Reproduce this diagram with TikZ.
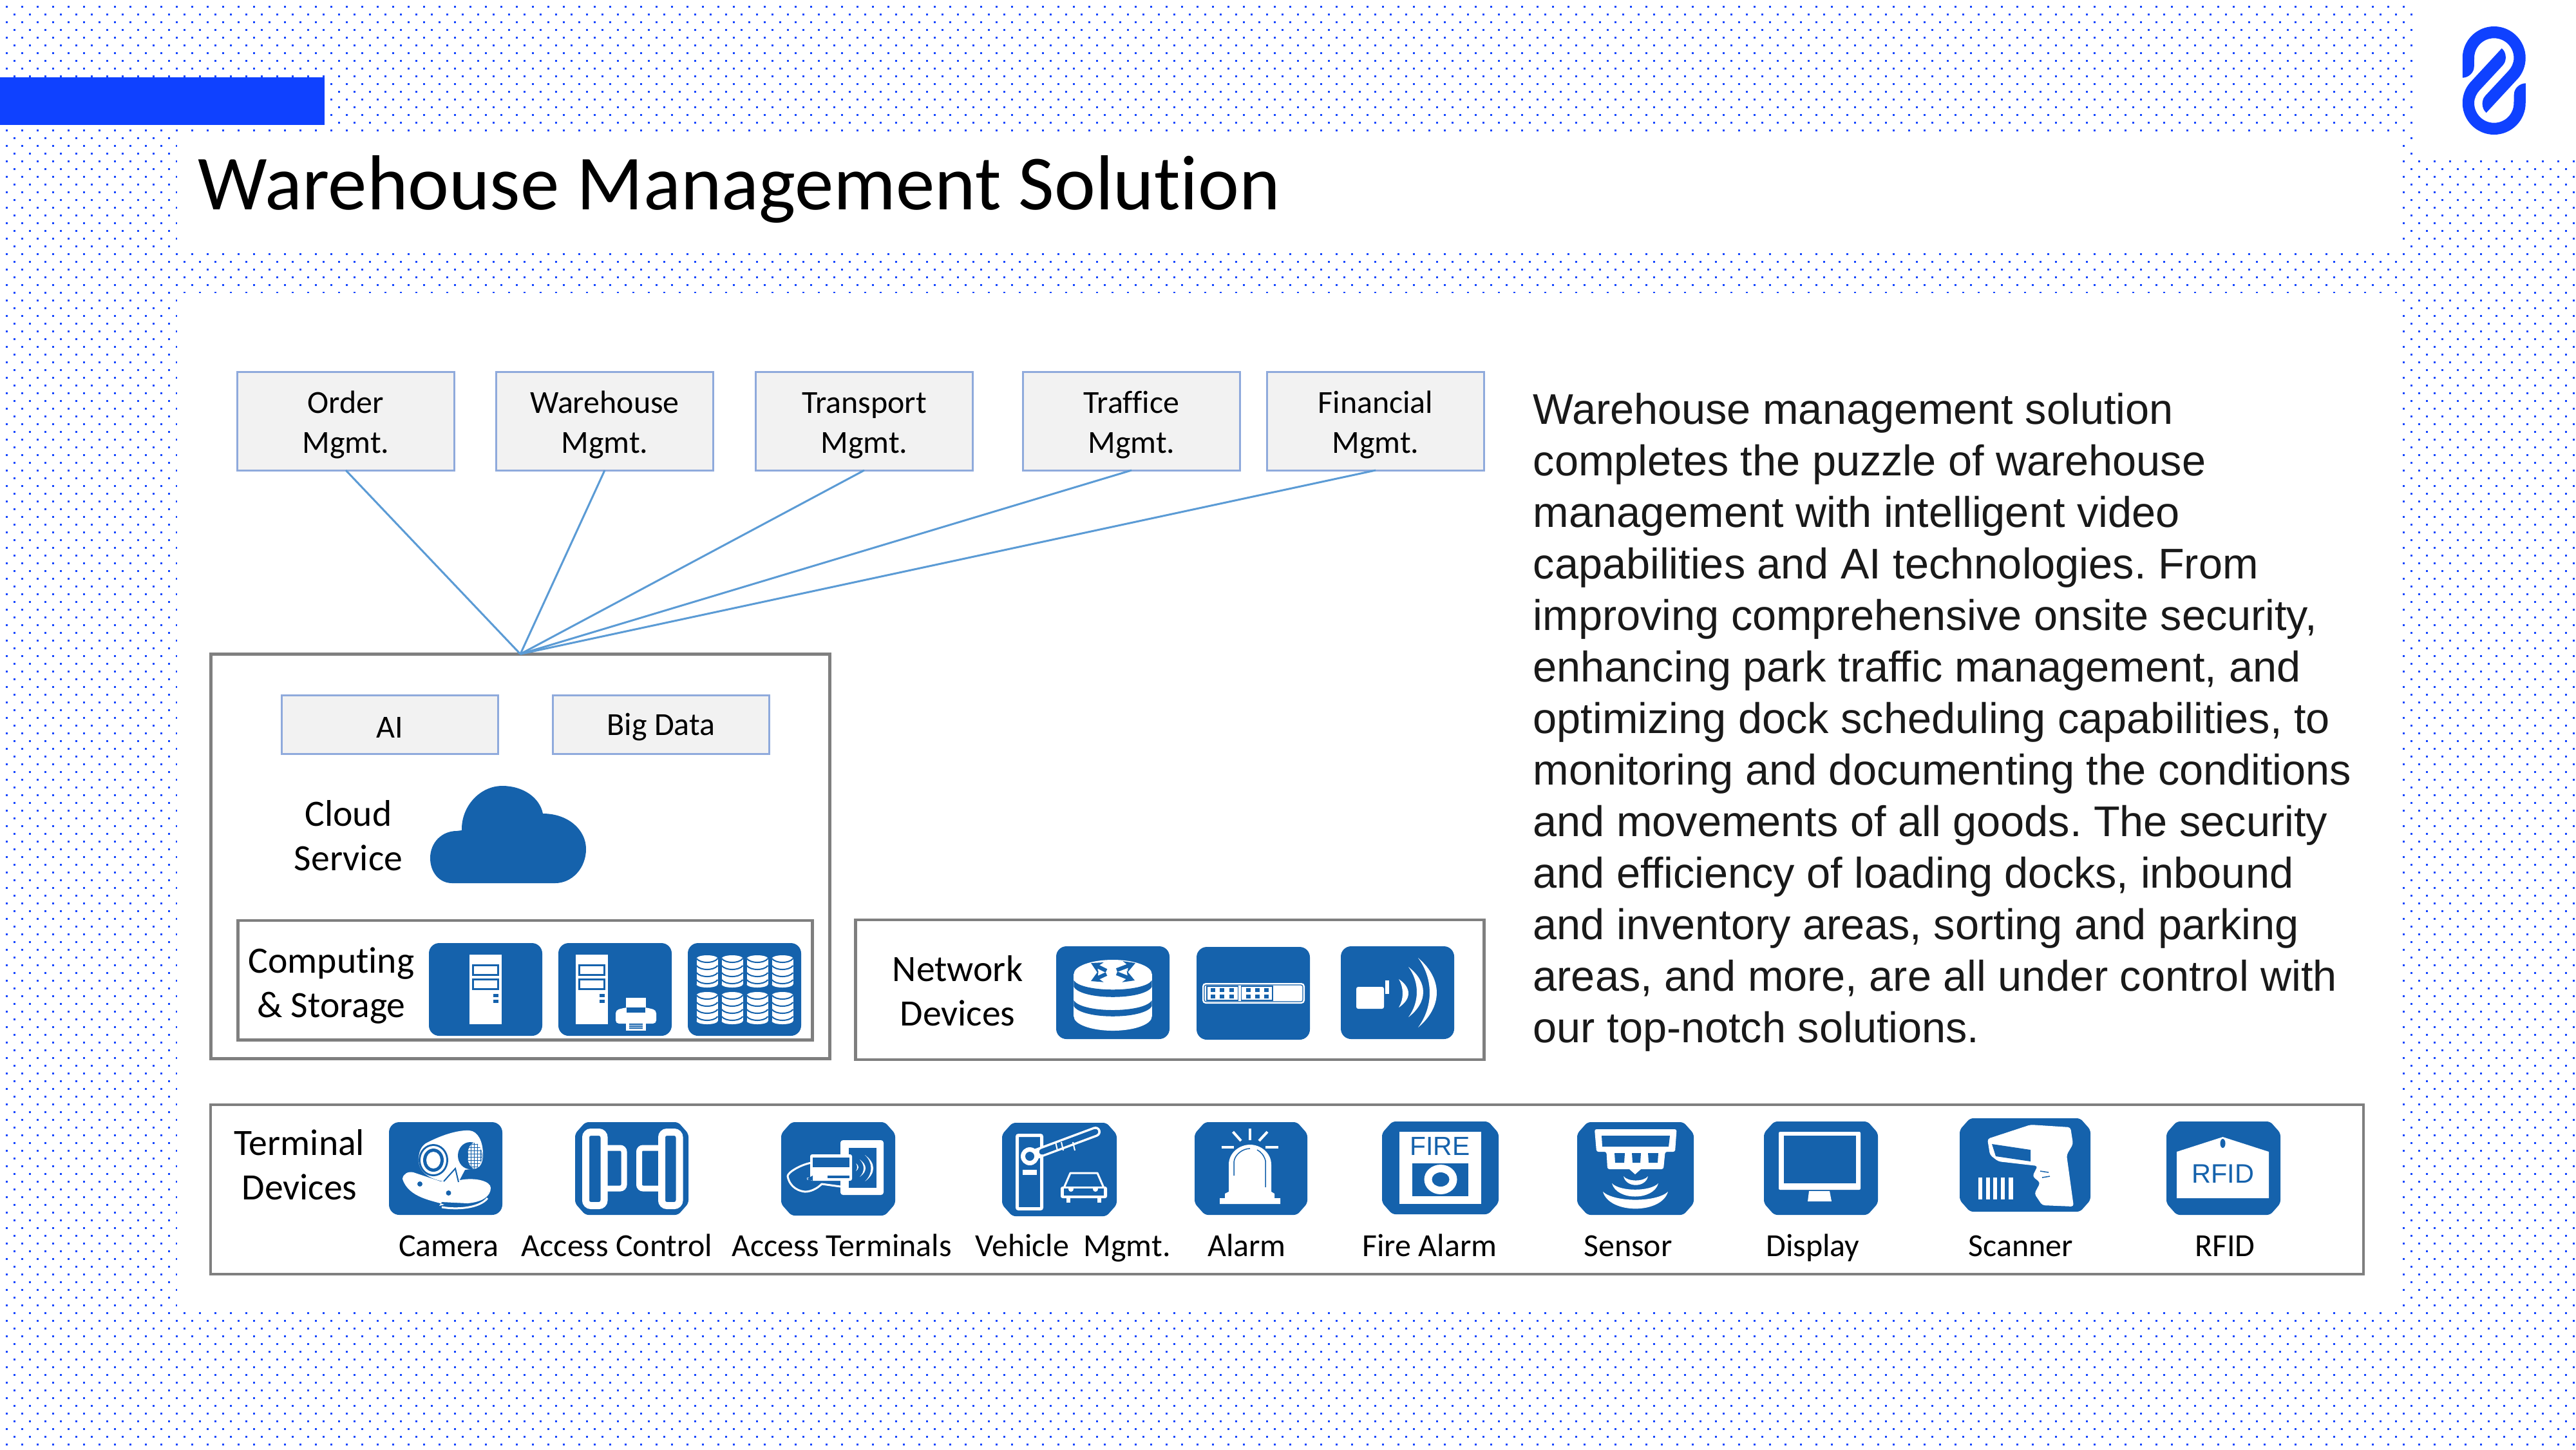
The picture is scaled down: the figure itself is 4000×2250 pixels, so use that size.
\documentclass[tikz,border=0pt]{standalone}
\usepackage{fontspec}
\setmainfont[Ligatures=NoCommon]{Carlito}
\newfontfamily\arialfont{Liberation Sans}
\usetikzlibrary{arrows.meta}
\definecolor{dotblue}{HTML}{1446FF}
\definecolor{barblue}{HTML}{0F41FF}
\definecolor{boxedge}{HTML}{8FAADC}
\definecolor{boxfill}{HTML}{F2F2F2}
\definecolor{framegray}{HTML}{7F7F7F}
\definecolor{linkblue}{HTML}{5B9BD5}
\definecolor{iconblue}{HTML}{1562AC}
\tikzset{
    dotrow/.style={dotblue, line width=.03cm, dash pattern=on .03cm off .21cm},
    appbox/.style={draw=boxedge, fill=boxfill, line width=.03cm, inner sep=0, outer sep=0, minimum width=3.36cm, align=center, font=\fontsize{14.2}{17.36}\selectfont},
    mgmtbox/.style={appbox, minimum height=1.52cm, execute at begin node=\rule{0pt}{30.3pt}},
    techbox/.style={appbox, minimum height=.91cm, execute at begin node=\rule{0pt}{12pt}},
    framebox/.style={draw=framegray, line width=.045cm, inner sep=0, outer sep=0},
    grouplabel/.style={align=center, font=\fontsize{16.4}{19.63}\selectfont},
    termlabel/.style={anchor=base, font=\fontsize{14.2}{17}\selectfont},
    linkline/.style={draw=linkblue, line width=.03cm},
    iconfill/.style={fill=iconblue},
    ray/.style={draw=white, line width=.04cm},
}
\newcommand{\roundplate}[2]{\fill[iconfill, rounded corners=.16cm] (0,0) rectangle (#1,#2);}
\newcommand{\cutplate}[2]{\fill[iconfill, rounded corners=.05cm] (16,0) -- ({#1-16},0) -- (#1,18) -- (#1,{#2-18}) -- ({#1-16},#2) -- (16,#2) -- (0,{#2-18}) -- (0,18) -- cycle;}
% x, top, bottom, bow, thickness
\newcommand{\crescent}[5]{\fill[white] (#1,#2) .. controls ({#1+1.33*#4},{#2+.3*(#3-#2)}) and ({#1+1.33*#4},{#3-.3*(#3-#2)}) .. (#1,#3) .. controls ({#1+1.33*(#4-#5)},{#3-.3*(#3-#2)}) and ({#1+1.33*(#4-#5)},{#2+.3*(#3-#2)}) .. (#1,#2) -- cycle;}
% left, right, top, bottom depth
\newcommand{\wavearc}[4]{\fill[white] (#1,#3) .. controls ({#1+.1*(#2-#1)},{#3+1.3*#4}) and ({#2-.1*(#2-#1)},{#3+1.3*#4}) .. (#2,#3) .. controls ({#2-.18*(#2-#1)},{#3+.62*#4}) and ({#1+.18*(#2-#1)},{#3+.62*#4}) .. (#1,#3) -- cycle;}
\newcommand{\towershape}{
    \fill[white] (0,0) rectangle (50,108);
    \draw[iconblue, line width=.03cm] (5.5,16.5) rectangle (44.5,31.5);
    \draw[iconblue, line width=.03cm] (5.5,38.5) rectangle (44.5,53.5);
    \fill[iconblue] (37,61) rectangle (45,66);
    \fill[iconblue] (37,70) rectangle (45,75);
}
\begin{document}
\begin{tikzpicture}[x=.01cm, y=-.01cm]
    \useasboundingbox (0,0) rectangle (4000,2250);
    \fill[white] (0,0) rectangle (4000,2250);

    % dotted paper
    \foreach \y in {10.3,34.3,...,2250} {
        \draw[dotrow] (9,\y) -- (4000,\y);
        \draw[dotrow] (21,\y+12) -- (4000,\y+12);
    }
    \fill[white] (275,208) rectangle (3728,388);
    \fill[white] (275,455) rectangle (3728,2028);
    \fill[white] (3755,0) rectangle (4000,245);
    \fill[barblue] (0,120) rectangle (504,194);

    % logo
    \begin{scope}[shift={(3872.7,125)}]
        \foreach \a in {0,180} {
            \fill[barblue, rotate=\a] (-49,-4.3) -- (-49,-35) .. controls (-49,-62) and (-27,-84) .. (0,-84) .. controls (27,-84) and (49,-62) .. (49,-35) .. controls (49,-22) and (44,-11) .. (37.3,-3.3) -- (-12,50) .. controls (-18,45) and (-19,36) .. (-17.7,32) .. controls (-17,28) and (-15,25) .. (-13.3,23.3) -- (22.3,-15) .. controls (27,-20) and (30.7,-27) .. (30.7,-35) .. controls (30.7,-52) and (17,-65.7) .. (0,-65.7) .. controls (-17,-65.7) and (-30.7,-52) .. (-30.7,-35) -- (-31,-21.7) .. controls (-31,-12) and (-40,-4.3) .. (-49,-4.3) -- cycle;
        }
    \end{scope}

    \node (title) [anchor=base west, inner sep=0, font=\fontsize{34.4}{40}\selectfont] at (307,325) {Warehouse Management Solution};

    % application boxes
    \node (order) [mgmtbox] at (537,654) {Order\\Mgmt.};
    \node (warehouse) [mgmtbox] at (939,654) {Warehouse\\Mgmt.};
    \node (transport) [mgmtbox] at (1342,654) {Transport\\Mgmt.};
    \node (traffice) [mgmtbox] at (1757,654) {Traffice\\Mgmt.};
    \node (financial) [mgmtbox] at (2136,654) {Financial\\Mgmt.};

    % frames
    \node (platform) [framebox, minimum width=9.6cm, minimum height=6.28cm] at (808,1329.5) {};
    \node (computing) [framebox, minimum width=8.91cm, minimum height=1.855cm] at (815.5,1521.75) {};
    \node (network) [framebox, minimum width=9.75cm, minimum height=2.17cm] at (1816.5,1536.5) {};
    \node (terminal) [framebox, minimum width=33.41cm, minimum height=2.63cm] at (1998.5,1846.5) {};
    \foreach \n in {order,warehouse,transport,traffice,financial} {
        \draw[linkline] (\n.south) -- (platform.north);
    }

    \node (ai) [techbox] at (605.5,1124.5) {AI};
    \node (bigdata) [techbox] at (1026.5,1124.5) {Big Data};
    \node (cloudtext) [grouplabel] at (541,1297) {Cloud\\Service};
    \node (comptext) [grouplabel] at (514.5,1530) {Computing\\\&\ Storage};
    \node (nettext) [grouplabel] at (1487,1538) {Network\\Devices};
    \node (termtext) [grouplabel] at (465,1808) {Terminal\\Devices};

    % cloud
    \fill[iconfill] (702,1371) .. controls (682,1371) and (668,1354) .. (668,1332) .. controls (668,1308) and (686,1290) .. (709,1290) -- (717,1289) .. controls (716,1252) and (745,1220) .. (780,1220) .. controls (812,1220) and (838,1238) .. (843,1263) .. controls (882,1263) and (910,1288) .. (910,1318) .. controls (910,1348) and (888,1371) .. (862,1371) -- cycle;

    % server
    \begin{scope}[shift={(666,1464)}]
        \roundplate{176}{144}
        \begin{scope}[shift={(63,18)}]
            \towershape
        \end{scope}
    \end{scope}
    % server and printer
    \begin{scope}[shift={(867,1464)}]
        \roundplate{176}{144}
        \begin{scope}[shift={(27,18)}]
            \towershape
        \end{scope}
        \fill[white, rounded corners=.05cm] (89,125) -- (89,104) -- (105,100) -- (136,100) -- (152,104) -- (152,125) -- cycle;
        \fill[white] (105,85) rectangle (136,100);
        \fill[iconblue] (106,100) rectangle (135,108);
        \fill[white] (105,122) rectangle (136,136);
        \draw[iconblue, line width=.015cm] (110,126) -- (131,126) (110,129) -- (131,129) (110,132) -- (131,132);
    \end{scope}
    % storage
    \begin{scope}[shift={(1068,1464)}]
        \roundplate{176}{144}
        \foreach \cx in {30,69,108,147} {
            \foreach \cy in {19,76} {
                \begin{scope}[shift={(\cx,\cy)}]
                    \fill[white] (-16.5,5) rectangle (16.5,45);
                    \fill[white] (0,5) ellipse (16.5 and 5);
                    \fill[white] (0,45) ellipse (16.5 and 5);
                    \foreach \d in {5,16,27,38} {
                        \draw[iconblue, line width=.02cm] (-16.5,\d) .. controls (-10,\d+8) and (10,\d+8) .. (16.5,\d);
                    }
                \end{scope}
            }
        }
    \end{scope}

    % router
    \begin{scope}[shift={(1640,1469)}]
        \roundplate{176}{144}
        \fill[white] (27.4,43) rectangle (148.6,109);
        \fill[white] (88,109) ellipse (60.6 and 22);
        \fill[white] (88,43) ellipse (60.6 and 22);
        \fill[iconblue] (27.4,53) .. controls (40,72) and (136,72) .. (148.6,53) -- (148.6,63) .. controls (136,84) and (40,84) .. (27.4,63) -- cycle;
        \fill[iconblue] (27.4,84) .. controls (40,104) and (136,104) .. (148.6,84) -- (148.6,93) .. controls (136,114) and (40,114) .. (27.4,93) -- cycle;
        \foreach \tx/\ty/\sx/\sy in {54/26/78/38, 123/26/94/37, 54/54/78/43, 122/53/94/42} {
            \draw[iconblue, line width=.06cm, -{Stealth[length=.17cm, width=.19cm]}] (\sx,\sy) -- (\tx,\ty);
        }
    \end{scope}
    % switch
    \begin{scope}[shift={(1858,1470)}]
        \roundplate{176}{144}
        \fill[white, rounded corners=.05cm] (9,56) rectangle (168,88);
        \draw[iconblue, line width=.012cm, rounded corners=.03cm] (12,59) rectangle (165,85);
        \foreach \gx in {16,69.5} {
            \draw[iconblue, line width=.012cm] (\gx,61) rectangle (\gx+48.5,83);
        }
        \foreach \px in {25.5,39.5,54,80,94,108} {
            \fill[iconblue] (\px-3.5,64) rectangle (\px+3.5,70);
            \fill[iconblue] (\px-3.5,74) rectangle (\px+3.5,80);
        }
    \end{scope}
    % wireless
    \begin{scope}[shift={(2082,1469)}]
        \roundplate{176}{144}
        \fill[white, rounded corners=.03cm] (24,63) rectangle (67,97);
        \fill[white] (69,53) rectangle (75,74);
        \crescent{90}{51}{95}{15}{9}
        \crescent{105}{32}{110}{23}{10}
        \crescent{120}{18}{126}{29}{11}
    \end{scope}

    % camera
    \begin{scope}[shift={(604,1742)}]
        \roundplate{176}{144}
        \fill[white] (21,88) .. controls (22,80) and (30,76) .. (38,78) -- (80,92) -- (110,90) .. controls (135,85) and (158,92) .. (158,102) .. controls (158,115) and (145,124) .. (122,126) -- (82,124) -- (78,130) -- (86,128) .. controls (70,122) and (30,118) .. (21,88) -- cycle;
        \draw[white, line width=.03cm] (82,132) .. controls (105,136) and (140,134) .. (153,118);
        \fill[white] (57,33) .. controls (85,18) and (110,12) .. (125,13) .. controls (138,14) and (146,30) .. (146,50) .. controls (146,62) and (142,70) .. (135,72) -- (118,74) -- (108,93) -- (85,92) .. controls (60,88) and (44,75) .. (46,55) .. controls (47,45) and (50,38) .. (57,33) -- cycle;
        \draw[iconblue, line width=.02cm] (85,92) -- (103,72) -- (108,93);
        \fill[iconblue] (69,59) ellipse (23 and 25);
        \fill[white] (69,59) ellipse (20 and 22);
        \fill[iconblue] (69,59) ellipse (16 and 18);
        \fill[white] (69,59) ellipse (11 and 13);
        \fill[iconblue] (126,52) ellipse (19 and 21);
        \begin{scope}
            \clip (133,52) ellipse (11 and 20);
            \fill[white] (120,30) rectangle (146,74);
            \foreach \g in {122,127,...,146} {
                \draw[iconblue, line width=.01cm] (\g,30) -- (\g,74);
            }
            \foreach \g in {34,39,...,74} {
                \draw[iconblue, line width=.01cm] (120,\g) -- (146,\g);
            }
        \end{scope}
        \fill[iconblue] (48,96) circle (4);
        \fill[iconblue] (92.5,110) circle (4);
    \end{scope}
    % access control
    \begin{scope}[shift={(893,1742)}]
        \cutplate{176}{144}
        \draw[white, line width=.11cm, rounded corners=.08cm] (16.5,15.5) rectangle (45,129.5);
        \draw[white, line width=.11cm, rounded corners=.08cm] (134.5,15.5) rectangle (162,129.5);
        \draw[white, line width=.09cm, rounded corners=.06cm] (45,40) -- (76,40) -- (76,103) -- (45,103);
        \draw[white, line width=.09cm, rounded corners=.06cm] (134.5,40) -- (99.5,40) -- (99.5,103) -- (134.5,103);
    \end{scope}
    % access terminals
    \begin{scope}[shift={(1213,1742)}]
        \cutplate{177}{145}
        \fill[white, rounded corners=.04cm] (92,28) rectangle (159,113);
        \fill[iconblue] (105,40) rectangle (148,102);
        \draw[white, line width=.03cm, line join=round] (47,63) .. controls (30,66) and (10,78) .. (10,84) .. controls (12,95) and (20,106) .. (37,108) .. controls (45,108) and (55,104) .. (63,96) -- (92,100);
        \draw[white, line width=.03cm] (40,88) -- (67,84);
        \fill[white, rounded corners=.03cm] (45,50) rectangle (110,91);
        \fill[iconblue] (49,55) rectangle (106,70);
        \fill[iconblue] (72,83) rectangle (106,87);
        \fill[iconblue] (49,83) -- (40,88) -- (49,91) -- cycle;
        \crescent{116}{64}{76}{4}{2}
        \crescent{122}{58}{85}{9}{3}
        \crescent{130}{51}{92}{13}{3.5}
    \end{scope}
    % vehicle management
    \begin{scope}[shift={(1556,1743)}]
        \cutplate{178}{145}
        \draw[white, line width=.05cm, rounded corners=.02cm] (23.5,19.5) rectangle (61.5,133.5);
        \fill[white] (32,73) rectangle (54,81);
        \draw[white, line width=.16cm, line cap=round] (43,52) -- (145,14);
        \draw[iconblue, line width=.09cm, line cap=round] (62,45) -- (145,14);
        \foreach \s in {83,92,110} {
            \draw[white, line width=.02cm] (\s,30) -- (\s+3,43);
        }
        \fill[white] (43,52) circle (14);
        \fill[iconblue] (43,52) circle (7);
        \draw[white, line width=.03cm, line join=round] (96,101) -- (106,78) -- (148,78) -- (158,101);
        \fill[white, rounded corners=.03cm] (91,99) rectangle (163,117);
        \fill[iconblue] (96,102) rectangle (158,113);
        \fill[white] (107,103) circle (4);
        \fill[white] (145,103) circle (4);
        \fill[white] (100,115) rectangle (106,124);
        \fill[white] (148,115) rectangle (154,124);
    \end{scope}
    % alarm
    \begin{scope}[shift={(1855,1742)}]
        \cutplate{175}{144}
        \fill[white] (39,127) -- (39,118) -- (47,118) -- (47,111) -- (53,108) -- (53,66) .. controls (53,47) and (70,35) .. (86,35) .. controls (102,35) and (119,47) .. (119,66) -- (119,108) -- (124,111) -- (124,118) -- (133,118) -- (133,127) -- cycle;
        \draw[iconblue, line width=.015cm] (61,83) -- (61,62) .. controls (62,50) and (75,41) .. (86,41);
        \draw[iconblue, line width=.015cm] (110,101) -- (110,60) .. controls (108,52) and (103,46) .. (97,43);
        \draw[ray] (86,10) -- (86,28);
        \draw[ray] (59.5,15) -- (72,29);
        \draw[ray] (113,15) -- (100,29);
        \draw[ray] (41.5,39) -- (60.5,39);
        \draw[ray] (110,39) -- (129.5,39);
    \end{scope}
    % fire alarm
    \begin{scope}[shift={(2146,1741)}]
        \cutplate{181}{144}
        \fill[white] (27,16) rectangle (154,128);
        \node (firetext) [text=iconblue, inner sep=0, font=\arialfont\fontsize{11.6}{13}\selectfont] at (90,38) {FIRE};
        \fill[iconblue] (46.5,65) rectangle (134,116);
        \fill[white] (91,90) ellipse (25.5 and 23);
        \fill[iconblue] (91,90) ellipse (13.5 and 11);
    \end{scope}
    % sensor
    \begin{scope}[shift={(2449,1742)}]
        \cutplate{181}{144}
        \fill[white, rounded corners=.03cm] (27,11) -- (154.5,11) -- (152,46) -- (136.6,46) -- (134,73) -- (47,73) -- (45.5,46) -- (30,46) -- cycle;
        \fill[iconblue] (38,21) -- (144,21) -- (142,38) -- (39,38) -- cycle;
        \foreach \sl/\sr in {58/74, 85/99, 110/126} {
            \fill[iconblue] (\sl,48) -- (\sr,48) -- (\sr-1,63) -- (\sl+1,63) -- cycle;
        }
        \fill[white] (81,73) -- (99,73) -- (90,81) -- cycle;
        \wavearc{72}{110}{84}{14}
        \wavearc{54}{126}{95}{21}
        \wavearc{40}{141}{108}{27}
    \end{scope}
    % display
    \begin{scope}[shift={(2739,1741)}]
        \cutplate{177}{145}
        \fill[white, rounded corners=.02cm] (23,16) rectangle (150,106);
        \fill[iconblue] (31,22) rectangle (143,96);
        \fill[white] (70,108) -- (102,108) -- (105,124) -- (68,124) -- cycle;
    \end{scope}
    % scanner
    \begin{scope}[shift={(3043,1736)}]
        \cutplate{203}{145}
        \fill[white, rounded corners=.04cm] (110,10) -- (172,14) -- (176,40) -- (166,57) -- (177,137) -- (128,135) -- (116,117) -- (125,100) -- (113,90) -- (121,74) -- (60,67) -- (47,57) -- (43,32) -- cycle;
        \fill[iconblue] (50,40) -- (110,49) -- (110,67) -- (56,59) -- cycle;
        \draw[iconblue, line width=.015cm] (125,82) -- (138,84) (128,92) -- (140,90);
        \foreach \bx/\bw in {29/6, 41/6, 52/6, 64/6, 76/7} {
            \fill[white] (\bx,92) rectangle (\bx+\bw,126);
        }
    \end{scope}
    % rfid
    \begin{scope}[shift={(3364,1741)}]
        \cutplate{177}{145}
        \fill[white] (16,47) -- (87.5,24) -- (159,47) -- (159,119) -- (16,119) -- cycle;
        \fill[iconblue] (87.5,34) ellipse (4 and 7);
        \node (rfidtext) [text=iconblue, inner sep=0, font=\arialfont\fontsize{11.8}{13}\selectfont] at (88,81) {RFID};
    \end{scope}

    % terminal captions
    \node (camera) [termlabel] at (697,1950) {Camera};
    \node (access) [termlabel] at (958,1950) {Access Control};
    \node (accterm) [termlabel] at (1307,1950) {Access Terminals};
    \node (vehicle) [termlabel] at (1666,1950) {Vehicle\ \ Mgmt.};
    \node (alarm) [termlabel] at (1936,1950) {Alarm};
    \node (firealarm) [termlabel] at (2220,1950) {Fire Alarm};
    \node (sensor) [termlabel] at (2528,1950) {Sensor};
    \node (display) [termlabel] at (2815,1950) {Display};
    \node (scanner) [termlabel] at (3138,1950) {Scanner};
    \node (rfid) [termlabel] at (3455,1950) {RFID};

    \node (body) [anchor=north west, align=left, inner sep=0, text=black!90, font=\arialfont\frenchspacing\fontsize{18.95}{22.75}\selectfont] at (2380,609) {Warehouse management solution\\completes the puzzle of warehouse\\management with intelligent video\\capabilities and AI technologies. From\\improving comprehensive onsite security,\\enhancing park traffic management, and\\optimizing dock scheduling capabilities, to\\monitoring and documenting the conditions\\and movements of all goods. The security\\and efficiency of loading docks, inbound\\and inventory areas, sorting and parking\\areas, and more, are all under control with\\our top-notch solutions.};
\end{tikzpicture}
\end{document}
